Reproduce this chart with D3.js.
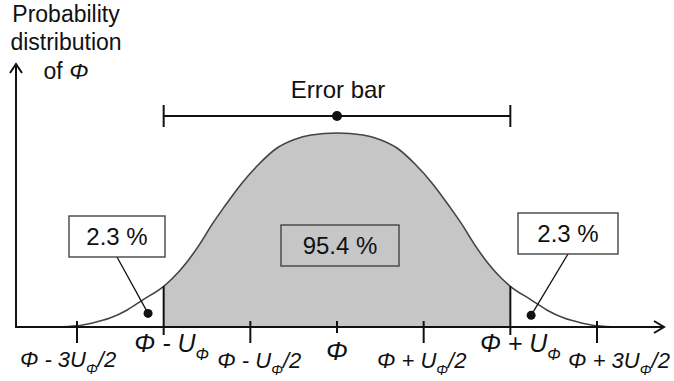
<!DOCTYPE html>
<html>
<head>
<meta charset="utf-8">
<script src="https://cdn.jsdelivr.net/npm/d3@7"></script>
<style>
  body { margin: 0; background: #fff; }
  svg { display: block; font-family: "Liberation Sans", Arial, sans-serif; }
</style>
</head>
<body>
<svg id="chart"></svg>
<script>
// curve: x in units of U, density relative to the peak
const curveU = [-1.62, -1.5, -1.41, -1.31, -1.21, -1.12, -1.0, -0.95, -0.87, -0.79, -0.72, -0.65, -0.55, -0.45, -0.35, -0.25, -0.15,
                0, 0.15, 0.25, 0.35, 0.45, 0.55, 0.65, 0.72, 0.79, 0.87, 0.95, 1.0, 1.12, 1.21, 1.31, 1.41, 1.5, 1.62];
const curveP = [0, 0.006, 0.021, 0.046, 0.088, 0.14, 0.21, 0.25, 0.33, 0.43, 0.53, 0.62, 0.74, 0.84, 0.92, 0.965, 0.99,
                1, 0.99, 0.965, 0.92, 0.84, 0.74, 0.62, 0.53, 0.43, 0.33, 0.25, 0.21, 0.14, 0.088, 0.046, 0.021, 0.006, 0];

const tickValues = [-1.5, -1, -0.5, 0, 0.5, 1, 1.5];
const tickMain = ["Φ - 3U", "Φ - U", "Φ - U", "Φ", "Φ + U", "Φ + U", "Φ + 3U"];
const tickSub  = ["Φ", "Φ", "Φ", "", "Φ", "Φ", "Φ"];
const tickTail = ["/2", "", "/2", "", "/2", "", "/2"];

const centerShare = "95.4 %";
const tailShare = "2.3 %";

const W = 674, H = 381;
const svg = d3.select("#chart").attr("width", W).attr("height", H);

const x = d3.scaleLinear().domain([-1.5, 1.5]).range([77, 597]);
const y = d3.scaleLinear().domain([0, 1]).range([327, 133]);

const pts = curveU.map((u, i) => ({u: u, p: curveP[i]}));
const inner = pts.filter(d => d.u >= -1 && d.u <= 1);

const line = d3.line().x(d => x(d.u)).y(d => y(d.p)).curve(d3.curveMonotoneX);
const area = d3.area().x(d => x(d.u)).y0(y(0)).y1(d => y(d.p)).curve(d3.curveMonotoneX);

// shaded 95.4 % region
svg.append("path").datum(inner).attr("d", area).attr("fill", "#c5c6c5");

// bell curve
svg.append("path").datum(pts).attr("d", line)
    .attr("fill", "none").attr("stroke", "#444").attr("stroke-width", 1.6);

// vertical lines at ±U
[-1, 1].forEach(u => {
    let p = pts.find(d => d.u === u).p;
    svg.append("line")
        .attr("x1", x(u)).attr("x2", x(u))
        .attr("y1", y(p)).attr("y2", y(0) + 8)
        .attr("stroke", "#111").attr("stroke-width", 2);
});

// axes
const ax = svg.append("g").attr("stroke", "#111").attr("stroke-width", 2).attr("fill", "none");
ax.append("line").attr("x1", 16).attr("x2", 664).attr("y1", y(0)).attr("y2", y(0));
ax.append("polyline").attr("points", `654,${y(0) - 6} 664,${y(0)} 654,${y(0) + 6}`);
ax.append("line").attr("x1", 16).attr("x2", 16).attr("y1", y(0) + 1).attr("y2", 64);
ax.append("polyline").attr("points", `10,73 16,64 22,73`);

// tick marks
tickValues.forEach(t => {
    if (Math.abs(t) === 1) return;
    let up = 6, down = (t === 0) ? 6 : 16;
    ax.append("line").attr("x1", x(t)).attr("x2", x(t))
        .attr("y1", y(0) - up).attr("y2", y(0) + down);
});

// tick labels
const nudge = {"-1.5": [-9, 367, 22], "-1": [8, 352, 25], "-0.5": [9, 368, 22], "0": [0, 360, 26],
               "0.5": [-2, 368, 22], "1": [10, 352, 25], "1.5": [22, 368, 22]};
tickValues.forEach((t, i) => {
    let n = nudge[String(t)];
    let txt = svg.append("text")
        .attr("x", x(t) + n[0]).attr("y", n[1])
        .attr("text-anchor", "middle")
        .attr("font-size", n[2])
        .attr("font-style", "italic")
        .attr("fill", "#111");
    txt.append("tspan").text(tickMain[i]);
    if (tickSub[i]) {
        txt.append("tspan").text(tickSub[i])
            .attr("font-size", n[2] * 0.64).attr("dy", n[2] * 0.3);
    }
    if (tickTail[i]) {
        txt.append("tspan").text(tickTail[i]).attr("dy", -n[2] * 0.3);
    }
});

// y axis title
const yTitle = svg.append("text").attr("text-anchor", "middle").attr("font-size", 23).attr("fill", "#111");
yTitle.append("tspan").attr("x", 66).attr("y", 22).text("Probability");
yTitle.append("tspan").attr("x", 66).attr("y", 50).text("distribution");
const of = yTitle.append("tspan").attr("x", 66).attr("y", 79);
of.append("tspan").text("of ");
of.append("tspan").attr("font-style", "italic").text("Φ");

// error bar
const eb = svg.append("g").attr("stroke", "#111").attr("stroke-width", 2);
const ebY = 116;
eb.append("line").attr("x1", x(-1)).attr("x2", x(1)).attr("y1", ebY).attr("y2", ebY);
[-1, 1].forEach(u => {
    eb.append("line").attr("x1", x(u)).attr("x2", x(u)).attr("y1", ebY - 11).attr("y2", ebY + 11);
});
svg.append("circle").attr("cx", x(0)).attr("cy", ebY).attr("r", 5).attr("fill", "#111");
svg.append("text").attr("x", x(0) + 1).attr("y", 98).attr("text-anchor", "middle")
    .attr("font-size", 24).attr("fill", "#111").text("Error bar");

// percentage boxes
function box(cx, top, w, fill, label) {
    svg.append("rect").attr("x", cx - w / 2).attr("y", top).attr("width", w).attr("height", 41)
        .attr("fill", fill).attr("stroke", "#444").attr("stroke-width", 1.4);
    svg.append("text").attr("x", cx).attr("y", top + 29).attr("text-anchor", "middle")
        .attr("font-size", 24).attr("fill", "#111").text(label);
}
box(x(0) + 3, 225, 118, "none", centerShare);

// tails: leader line to a dot inside the tail region
function tail(cx, top, w, dotU, dotP) {
    svg.append("line").attr("x1", cx).attr("y1", top + 41)
        .attr("x2", x(dotU)).attr("y2", y(dotP))
        .attr("stroke", "#111").attr("stroke-width", 1.3);
    svg.append("circle").attr("cx", x(dotU)).attr("cy", y(dotP)).attr("r", 4.5).attr("fill", "#111");
    box(cx, top, w, "#fff", tailShare);
}
tail(117, 216, 96, -1.09, 0.07);
tail(568, 213, 100, 1.12, 0.06);
</script>
</body>
</html>
